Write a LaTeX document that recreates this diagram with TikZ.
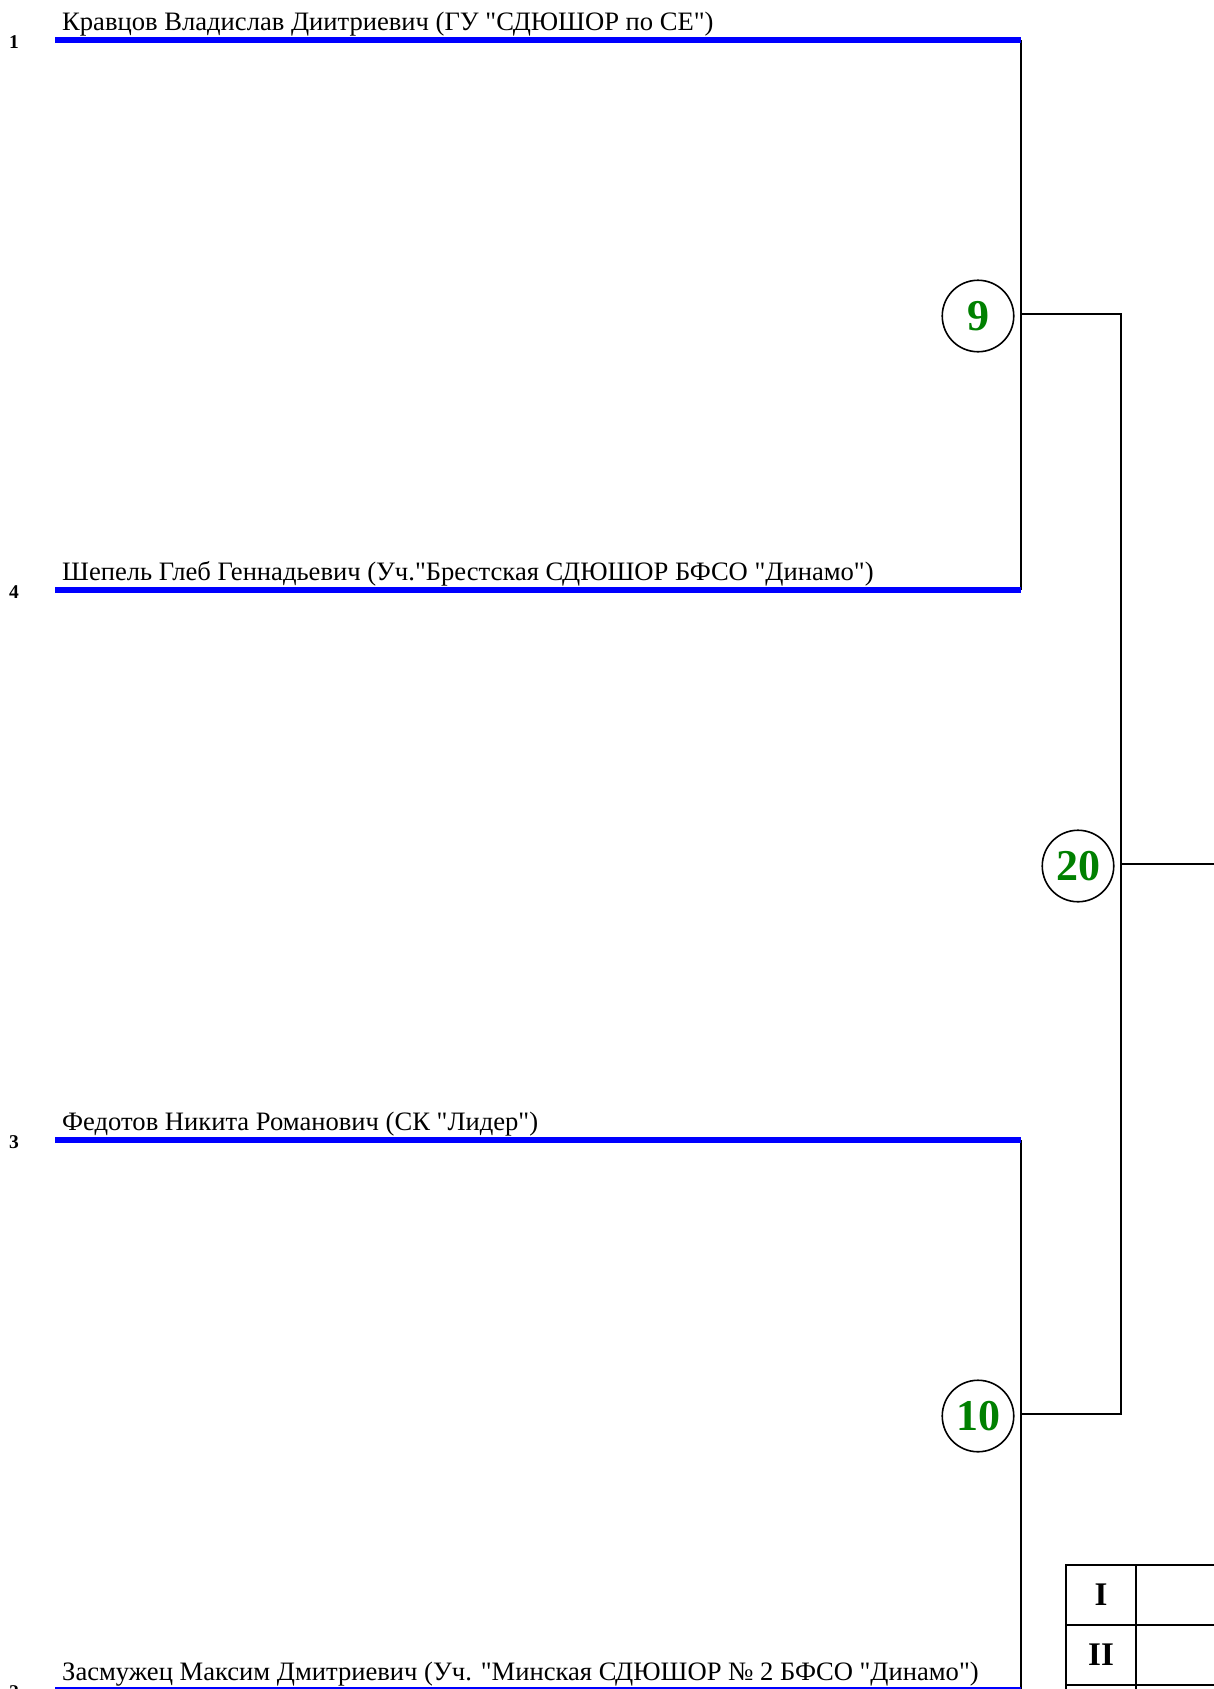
\documentclass[tikz,border=0pt]{standalone}
\usepackage{fontspec}
\setmainfont{Liberation Serif}[Ligatures=TeXOff]
\definecolor{matchgreen}{RGB}{0,128,0}
\definecolor{barblue}{RGB}{0,0,255}
\begin{document}
\begin{tikzpicture}[x=1pt,y=-1pt,
  bluebar/.style={draw=barblue, line width=5.5pt},
  wire/.style={draw=black, line width=2pt},
  pname/.style={anchor=base west, inner sep=0pt, font=\fontsize{26.6}{28}\selectfont},
  seedno/.style={anchor=base west, inner sep=0pt, font=\fontsize{19.5}{21}\selectfont\bfseries},
  bout/.style={circle, draw=black, line width=1.6pt, minimum size=71.5pt, inner sep=0pt, text=matchgreen, font=\fontsize{44}{46}\selectfont\bfseries},
  cell/.style={draw=black, line width=2pt, anchor=north west, inner sep=0pt, minimum height=60pt, font=\fontsize{33}{35}\selectfont\bfseries}]

\useasboundingbox (0,0) rectangle (1214,1689);
\clip (0,0) rectangle (1214,1689);

% row coordinates
\coordinate (r1s) at (55,40);   \coordinate (r1e) at (1021,40);
\coordinate (r2s) at (55,590);  \coordinate (r2e) at (1021,590);
\coordinate (r3s) at (55,1140); \coordinate (r3e) at (1021,1140);
\coordinate (r4s) at (55,1690); \coordinate (r4e) at (1021,1690);

% seeds
\node[seedno] (s1) at (9,48) {1};
\node[seedno] (s4) at (9,598) {4};
\node[seedno] (s3) at (9,1148) {3};
\node[seedno] (s2) at (9,1698) {2};

% names
\node[pname] (n1) at (62,30) {Кравцов Владислав Диитриевич (ГУ "СДЮШОР по СЕ")};
\node[pname] (n4) at (62,580) {Шепель Глеб Геннадьевич (Уч."Брестская СДЮШОР БФСО "Динамо")};
\node[pname] (n3) at (62,1130) {Федотов Никита Романович (СК "Лидер")};
\node[pname] (n2) at (62,1680) {Засмужец Максим Дмитриевич (Уч. "Минская СДЮШОР № 2 БФСО "Динамо")};

% bracket lines
\coordinate (j9) at (1021,314);  \coordinate (k9) at (1121,314);
\coordinate (j10) at (1021,1414); \coordinate (k10) at (1121,1414);
\coordinate (j20) at (1121,864); \coordinate (out20) at (1220,864);

\draw[wire] (r1e) -- (r2e);
\draw[wire] (r3e) -- (r4e);
\draw[wire] (j9) -- (k9) -- (k10) -- (j10);
\draw[wire] (j20) -- (out20);

\draw[bluebar] (r1s) -- (r1e);
\draw[bluebar] (r2s) -- (r2e);
\draw[bluebar] (r3s) -- (r3e);
\draw[bluebar] (r4s) -- (r4e);

% bouts
\node[bout] (b9) at (978,316) {9};
\node[bout] (b20) at (1078,866) {20};
\node[bout] (b10) at (978,1416) {10};

% places table
\node[cell, minimum width=70pt] (p1) at (1065,1564) {I};
\node[cell, minimum width=200pt] (v1) at (1135,1564) {};
\node[cell, minimum width=70pt] (p2) at (1065,1624) {II};
\node[cell, minimum width=200pt] (v2) at (1135,1624) {};
\node[cell, minimum width=70pt] (p3) at (1065,1684) {};
\node[cell, minimum width=200pt] (v3) at (1135,1684) {};
\end{tikzpicture}
\end{document}
